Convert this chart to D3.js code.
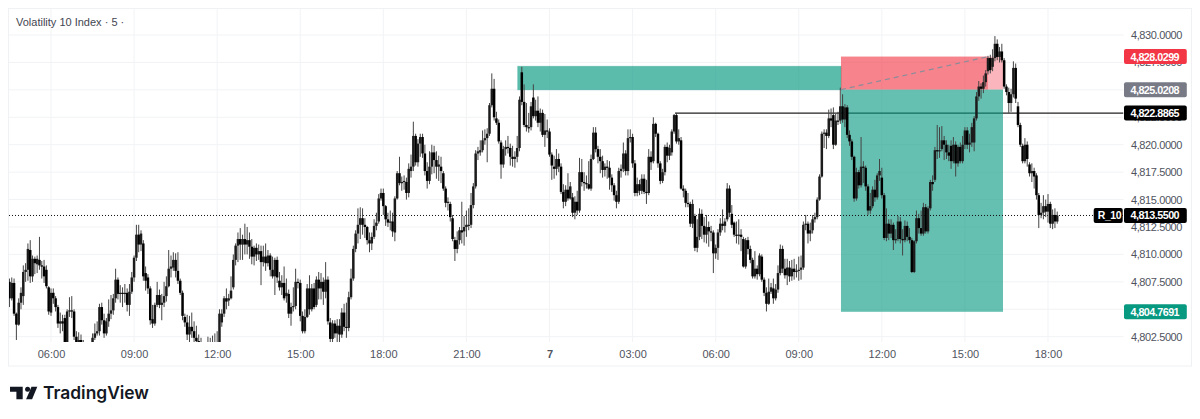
<!DOCTYPE html>
<html>
<head>
<meta charset="utf-8">
<script src="https://cdnjs.cloudflare.com/ajax/libs/d3/7.8.5/d3.min.js"></script>
<style>
  body { margin: 0; background: #fff; }
  text { font-family: "Liberation Sans", Roboto, sans-serif; }
</style>
</head>
<body>
<svg id="chart" width="1200" height="419"></svg>
<script>
// prices are kept as points above 4800, one entry per 5 minute bar
const priceBase = 4800
const opens = [7.5,6.0,7.4,4.6,3.6,5.6,6.2,8.4,8.6,10.4,
8.0,9.6,9.1,9.5,9.0,8.9,8.6,7.0,4.7,6.5,
6.0,5.2,3.7,3.9,4.2,2.0,4.8,4.9,4.8,2.5,
2.0,2.2,1.8,1.0,0.8,1.2,1.5,2.4,2.8,3.0,
5.2,4.0,2.8,3.9,4.6,4.9,6.0,7.7,6.4,6.5,
6.4,6.5,5.4,6.6,7.9,9.7,11.8,10.9,11.0,8.3,
7.9,6.9,4.1,3.7,5.4,6.3,5.4,5.6,6.2,7.1,
8.7,8.8,9.5,8.5,7.6,6.5,4.3,3.8,2.7,3.4,
3.0,2.4,2.1,2.0,1.6,1.2,1.3,1.5,1.7,1.8,
2.0,1.9,3.8,4.6,6.0,5.8,6.0,7.0,9.5,10.8,
11.4,10.9,11.4,10.9,11.3,10.7,9.8,10.6,10.0,10.3,
9.3,9.8,9.2,9.9,8.6,8.0,9.5,7.6,7.0,7.4,
6.2,6.4,4.6,5.2,5.3,7.5,7.4,4.4,3.0,4.3,
6.9,5.0,6.9,5.4,7.7,6.9,7.5,6.6,7.7,3.8,
2.3,3.7,2.8,3.5,2.7,4.7,3.4,3.3,6.1,7.8,
10.5,11.9,12.7,13.3,12.7,12.5,11.3,11.0,11.6,12.6,
13.0,15.1,15.6,14.4,13.2,12.9,13.0,12.0,15.1,17.4,
16.5,16.6,16.6,15.6,17.6,18.0,20.8,18.4,20.1,20.7,
19.2,17.6,16.7,18.0,19.3,18.6,18.0,18.0,17.4,16.0,
14.7,14.6,13.3,11.3,10.5,11.3,12.2,12.1,12.5,12.6,
12.7,14.5,16.2,19.2,19.3,19.5,20.4,20.6,21.0,23.6,
25.1,22.4,22.0,20.2,18.2,19.6,19.8,19.7,18.9,18.7,
18.9,19.7,26.6,23.9,21.8,21.6,21.6,24.3,22.6,23.1,
22.0,22.9,20.9,21.3,21.2,19.1,18.0,17.8,18.7,18.0,
15.7,14.8,15.9,15.1,15.2,13.8,14.8,14.0,17.5,16.6,
16.5,16.4,16.0,18.7,21.1,19.6,18.9,18.5,17.7,18.0,
17.9,17.0,16.3,15.4,14.8,17.6,17.8,19.2,17.6,20.6,
20.7,18.3,15.6,16.4,15.8,16.9,15.7,15.6,18.9,18.5,
21.9,21.0,18.3,16.7,17.5,19.8,19.0,19.3,21.2,22.7,
20.3,20.4,16.0,15.8,14.7,14.6,12.8,13.5,10.6,11.6,
13.7,12.6,11.8,12.5,12.1,12.0,10.1,10.6,12.0,12.8,
12.6,13.2,16.0,13.7,12.9,11.8,11.7,11.8,11.4,8.9,
11.3,10.5,9.5,8.0,8.7,8.2,9.8,7.7,6.5,5.5,
6.6,6.9,6.0,6.8,8.3,10.5,8.7,8.1,8.8,8.0,
8.7,8.4,8.5,8.6,8.8,12.7,12.8,11.9,12.2,13.2,
13.4,15.0,17.1,21.0,21.1,20.8,22.4,22.7,20.0,22.2,
22.2,23.5,22.3,23.4,20.9,20.3,18.9,15.1,17.5,16.3,
18.0,17.9,16.2,14.0,14.4,15.9,15.2,17.2,17.0,15.4,
11.5,12.8,11.9,12.7,11.3,11.4,13.0,11.4,11.3,12.6,
11.6,11.3,8.4,11.2,13.3,12.4,11.9,14.3,12.1,14.2,
16.6,16.8,19.5,19.4,19.6,20.4,20.0,19.3,19.9,18.5,
20.0,18.3,19.8,18.5,20.0,21.3,20.0,20.2,20.2,22.4,
24.4,25.3,25.1,25.7,26.7,27.9,27.1,27.9,29.2,28.0,
28.5,27.7,25.3,24.8,23.8,24.6,27.0,23.5,21.8,19.9,
18.5,20.0,18.2,17.4,17.6,17.2,15.4,13.6,13.8,14.4,
13.9,14.6,12.8,13.6,13.0]
const closes = [6.0,7.4,4.6,3.6,5.6,6.5,8.4,8.6,10.5,8.0,
9.6,9.2,9.6,9.0,8.9,8.0,7.1,4.8,6.5,6.0,
5.2,3.7,3.9,3.7,2.0,4.8,4.9,4.8,2.5,2.0,
2.2,1.8,1.0,0.8,1.2,1.5,2.4,2.8,3.0,5.2,
4.0,2.8,3.9,4.6,4.9,6.0,7.7,6.4,6.5,6.4,
6.5,5.4,6.6,7.9,9.7,11.8,10.9,11.9,8.0,7.6,
6.9,4.0,3.7,5.4,6.3,5.4,5.6,6.2,7.1,8.7,
8.9,9.5,8.5,7.6,6.5,4.4,3.8,2.7,3.4,3.0,
2.4,2.1,2.0,1.6,1.2,1.3,1.5,1.7,1.8,2.0,
1.9,4.6,4.6,6.0,5.7,6.0,6.7,9.5,10.8,11.4,
10.9,11.4,10.9,11.3,10.7,9.8,10.6,10.0,10.3,9.3,
9.8,9.2,9.9,8.6,8.0,9.5,7.9,7.0,7.4,6.0,
6.5,4.6,5.2,5.3,7.5,7.4,4.4,3.0,4.3,6.9,
5.0,6.9,5.2,7.7,6.9,7.5,6.6,7.7,3.9,2.3,
3.7,2.8,3.5,2.7,4.7,3.4,3.3,6.1,7.8,10.5,
11.9,12.7,13.3,12.7,12.5,11.3,11.0,11.6,12.6,12.9,
15.1,15.6,14.4,13.2,12.9,13.0,12.1,15.1,17.4,16.5,
16.6,16.7,15.6,17.8,18.0,20.8,18.4,20.1,20.7,19.2,
17.6,16.7,18.0,19.3,18.6,18.0,18.2,17.6,16.0,14.7,
14.8,13.4,11.4,10.5,11.3,12.2,12.0,12.5,12.7,12.7,
14.5,16.2,19.2,19.4,19.5,20.4,20.6,21.0,23.6,25.1,
22.5,22.0,20.3,18.2,19.6,19.8,19.7,18.9,18.7,18.9,
19.7,24.1,23.9,21.8,21.6,21.5,23.5,22.6,23.1,22.0,
22.9,20.9,21.3,21.2,19.1,18.1,17.8,18.7,18.0,15.7,
14.8,15.9,15.1,16.2,13.8,14.8,14.0,17.5,16.6,16.5,
16.4,16.0,18.7,21.1,19.6,18.9,18.5,17.7,18.0,17.9,
17.0,16.3,15.4,14.8,17.6,17.8,19.2,17.6,20.6,20.7,
18.3,15.6,16.4,15.8,16.9,15.7,15.6,18.9,18.4,21.9,
21.0,18.3,16.7,17.5,19.8,19.0,19.7,21.2,22.7,20.3,
20.6,16.0,15.8,14.7,14.6,12.8,14.6,10.6,11.6,13.7,
12.6,11.8,12.5,12.1,12.0,10.1,10.6,12.0,12.8,12.6,
13.0,16.0,13.8,12.7,11.8,11.7,11.8,11.6,8.9,11.3,
10.5,9.5,8.0,8.7,8.2,9.9,7.7,6.5,5.5,6.6,
7.0,6.0,6.8,8.3,10.5,8.7,8.1,8.8,8.0,8.7,
8.4,8.5,8.6,8.8,12.7,12.8,11.9,12.2,13.2,13.4,
15.0,17.1,21.0,21.1,20.8,22.4,22.2,20.0,22.2,22.1,
23.5,22.3,23.4,20.9,20.3,18.9,15.1,17.5,16.3,18.0,
17.9,16.2,14.0,14.4,15.9,15.2,17.2,17.6,15.4,11.5,
12.8,11.9,12.7,11.3,11.4,13.0,11.4,11.3,12.6,11.6,
11.3,8.4,11.2,13.3,12.4,11.9,14.3,12.1,14.2,16.6,
16.4,19.5,19.4,19.5,20.4,20.0,19.3,19.0,18.5,20.0,
18.3,19.8,18.5,20.0,21.3,20.0,20.2,21.6,22.4,24.4,
25.3,25.1,25.7,26.5,27.9,26.8,27.9,29.2,28.0,28.5,
27.7,25.3,24.8,23.8,24.6,27.0,24.2,21.8,20.0,18.5,
20.0,18.7,17.4,17.6,17.1,15.4,13.6,13.8,14.4,13.9,
14.6,12.8,13.6,13.0,13.55]
const highs = [7.8,7.9,7.8,4.7,6.0,7.0,9.0,9.2,11.0,11.3,
9.9,9.8,9.9,11.6,9.4,9.5,9.0,7.1,6.9,6.9,
6.2,5.4,4.7,4.5,4.5,5.0,6.1,6.2,5.0,3.0,
2.9,2.7,2.2,1.5,1.6,1.9,2.8,3.7,3.9,5.5,
5.6,4.6,4.2,5.9,6.3,6.4,8.7,7.9,7.2,7.0,
7.3,6.9,7.3,8.4,9.9,12.7,12.7,12.2,11.3,8.9,
8.2,7.1,5.4,5.6,7.5,6.8,6.4,7.5,8.0,10.4,
9.9,10.2,10.1,10.2,7.8,6.7,4.6,4.5,4.4,4.7,
3.9,3.5,2.7,2.4,1.9,1.7,2.5,2.4,2.6,2.8,
3.0,5.0,5.0,6.2,6.9,6.4,8.0,10.0,11.0,12.0,
12.4,11.8,12.8,12.5,12.0,11.4,10.8,11.0,10.9,10.8,
10.8,11.0,10.4,10.1,9.8,9.7,9.8,8.4,8.1,8.9,
7.8,6.8,5.6,7.0,8.7,7.8,7.7,4.8,5.0,7.3,
8.1,7.3,7.4,8.0,8.4,8.3,7.9,9.3,8.0,4.2,
4.0,4.0,4.1,4.1,5.1,5.5,5.6,6.6,8.7,10.8,
12.2,14.2,14.3,14.2,13.3,12.6,12.0,12.0,13.2,13.8,
15.5,16.0,16.0,14.5,13.8,14.0,13.8,15.3,17.6,18.9,
17.1,17.2,17.0,18.3,19.1,22.1,21.0,20.5,21.0,21.0,
20.0,18.4,19.4,20.0,19.9,19.4,19.0,18.9,17.6,16.2,
15.2,14.8,13.6,11.6,12.1,12.5,14.8,13.5,14.0,14.2,
15.6,16.5,19.5,19.8,20.4,21.3,21.4,21.5,23.8,26.5,
26.0,23.0,22.3,20.4,19.9,20.4,20.8,20.1,19.9,19.4,
20.8,24.4,27.1,25.5,23.8,22.9,23.9,25.5,24.1,24.4,
23.3,23.2,22.8,22.3,21.5,19.3,19.0,19.6,19.2,18.3,
16.4,16.3,17.4,16.6,15.6,15.3,15.8,18.8,18.7,17.5,
17.2,18.5,19.1,21.6,21.6,19.9,19.6,19.0,18.3,18.6,
18.5,17.3,16.5,15.8,17.9,18.2,20.2,19.5,21.4,21.4,
21.0,18.6,17.0,16.8,17.3,17.3,16.8,19.6,19.4,22.5,
22.0,21.1,18.5,17.8,20.0,20.2,20.0,21.4,22.8,22.9,
21.4,20.7,16.3,16.0,15.6,14.8,15.0,13.7,13.2,14.2,
14.1,13.4,13.6,13.0,12.6,12.2,10.9,12.3,13.3,14.1,
13.3,16.5,16.3,14.5,13.0,13.0,13.2,12.3,11.6,11.5,
11.6,10.8,9.7,10.3,9.0,10.1,10.0,7.9,7.0,7.8,
7.4,7.8,7.3,9.0,10.9,10.8,9.6,9.6,9.4,9.5,
9.6,9.1,9.8,9.9,13.0,13.6,13.0,12.9,13.6,13.8,
15.2,17.3,21.2,21.4,21.4,23.2,23.3,23.4,22.8,23.0,
25.2,24.6,23.7,23.6,21.3,20.5,19.0,17.9,17.7,20.7,
18.5,18.1,16.4,15.6,16.2,16.8,17.4,18.7,17.9,15.6,
14.2,13.2,13.2,12.9,12.3,13.5,13.4,12.3,13.1,13.0,
12.4,11.5,11.3,14.0,13.7,14.0,14.7,14.6,14.4,16.8,
17.2,19.8,21.8,21.6,21.7,20.8,20.4,20.0,20.4,20.7,
20.3,20.0,20.2,20.8,21.6,21.6,21.0,22.0,22.6,24.8,
25.8,25.6,26.3,26.8,28.1,28.2,28.7,29.9,29.6,28.9,
29.2,27.9,25.5,25.2,25.1,27.6,27.4,23.9,22.0,20.1,
20.6,20.3,18.4,18.3,17.9,17.4,15.6,14.7,15.4,15.0,
15.5,14.8,14.1,14.2,13.9]
const lows = [5.2,5.8,4.4,2.2,3.5,5.0,5.4,7.5,7.6,7.4,
7.5,8.2,8.3,8.6,7.8,7.4,6.9,4.5,4.4,5.5,
4.8,3.3,2.8,3.0,1.5,1.6,4.3,4.2,2.2,1.5,
1.2,1.0,0.5,0.2,0.3,0.6,1.0,2.2,2.6,2.6,
3.6,2.4,2.6,3.4,4.1,4.5,5.6,5.9,5.6,5.2,
5.6,4.8,4.4,6.4,7.5,9.4,10.2,10.3,7.6,6.7,
6.4,3.6,3.3,3.5,5.2,5.1,4.0,5.2,5.7,7.0,
7.9,8.5,7.9,7.3,6.3,4.0,3.4,2.2,2.0,2.4,
2.0,1.6,1.5,1.0,0.6,0.5,0.9,1.2,1.2,1.4,
1.5,1.5,3.4,4.3,5.0,5.3,5.9,6.8,9.0,9.3,
9.5,9.5,10.0,10.0,9.6,9.1,9.0,9.4,9.5,7.2,
8.9,8.5,8.9,8.0,7.8,6.3,7.4,6.7,6.3,5.8,
5.6,4.2,3.5,4.8,5.0,6.9,3.9,2.8,2.8,4.2,
4.5,4.8,5.0,5.2,5.9,5.9,5.4,6.0,3.6,2.0,
1.4,2.4,1.9,1.8,2.4,3.0,2.4,3.0,5.9,7.6,
10.2,11.0,11.4,11.8,11.5,10.9,10.2,10.4,11.4,12.2,
12.8,14.9,13.6,12.6,12.5,12.2,11.6,11.2,15.0,16.3,
15.8,15.9,15.0,15.2,17.0,17.6,18.1,18.0,18.9,18.8,
17.2,16.0,16.4,17.3,17.4,16.9,16.7,16.5,15.8,14.3,
14.0,13.0,11.2,9.4,10.1,10.9,11.0,10.8,11.6,12.2,
12.4,14.2,16.0,18.6,19.0,19.3,20.0,18.4,20.8,23.4,
22.2,21.8,20.1,16.9,17.9,19.0,19.2,18.1,18.0,17.9,
18.4,19.4,23.6,21.6,21.2,21.1,21.3,22.4,22.2,21.6,
21.2,20.7,19.8,20.6,18.9,16.8,16.9,17.2,17.5,15.5,
14.2,14.4,14.9,15.0,13.4,13.2,13.6,13.8,16.2,15.8,
16.0,15.9,15.8,18.6,19.3,18.3,17.4,17.0,17.1,16.9,
15.9,15.7,14.9,14.2,14.6,17.0,17.5,17.2,17.2,20.2,
17.9,15.3,15.3,15.4,15.5,15.5,14.6,15.4,17.7,18.3,
20.7,17.9,16.4,16.5,17.2,18.4,18.6,19.0,21.0,20.1,
20.0,15.9,15.2,14.3,14.3,12.5,12.4,10.3,10.2,11.3,
11.4,11.1,11.0,10.7,11.2,8.3,9.6,9.5,11.7,12.2,
12.0,13.0,13.4,12.4,11.6,11.0,10.9,10.3,8.8,8.7,
10.0,9.2,7.8,7.8,7.7,8.0,7.5,6.2,4.8,5.4,
6.4,5.5,5.8,6.5,8.1,8.3,7.8,7.2,7.5,7.6,
7.7,7.9,7.6,7.7,8.6,12.2,11.0,11.2,11.9,12.9,
13.2,14.9,17.0,19.7,19.6,20.6,21.6,19.6,19.9,21.8,
21.9,22.0,21.6,20.6,19.9,18.6,14.8,14.9,16.0,16.1,
16.5,15.8,13.6,13.7,14.2,14.8,15.0,16.7,15.1,11.3,
11.2,11.3,11.5,10.4,11.0,11.2,11.0,9.9,11.1,11.2,
11.0,8.3,8.3,11.0,11.9,11.7,11.7,11.9,11.9,14.0,
15.8,16.6,18.7,18.8,19.4,18.6,18.7,18.5,17.8,18.3,
17.1,18.0,18.3,18.3,19.6,19.6,19.3,19.8,19.4,22.2,
24.0,24.2,24.7,25.3,26.4,26.5,26.7,27.6,27.7,27.5,
27.5,25.1,24.5,22.9,23.0,24.3,23.8,21.6,19.8,18.3,
18.3,18.0,17.1,16.6,16.0,15.0,12.4,13.3,13.2,13.4,
12.9,12.4,12.3,12.4,12.8]

const priceTicks = [4830,4827.5,4825,4822.5,4820,4817.5,4815,4812.5,4810,4807.5,4805,4802.5]
const timeTickBars = [18,54,90,126,162,198,234,270,306,342,378,414,450]
const timeTickLabels = ['06:00','09:00','12:00','15:00','18:00','21:00','7','03:00','06:00','09:00','12:00','15:00','18:00']

const title = 'Volatility 10 Index · 5 ·'
const symbol = 'R_10'
const lastPrice = 4813.55
const levelPrice = 4822.8865
const levelStartBar = 288.4
const targetPrice = 4804.7691
const entryPrice = 4825.0208
const stopPrice = 4828.0299
const positionBars = [360.3, 430.5]
const tradeEndBar = 424
const supplyPrices = [4827.15, 4825.0]
const supplyBars = [220.2, 360.4]

const priceLabels = [
  {price: stopPrice, color: '#f23645'},
  {price: entryPrice, color: '#787b86'},
  {price: levelPrice, color: '#000'},
  {price: lastPrice, color: '#000'},
  {price: targetPrice, color: '#089981'}
]

const svg = d3.select('#chart')
const paneLeft = 9, paneRight = 1123.5, paneTop = 9, paneBottom = 342

const x = d3.scaleLinear().domain([18, 450]).range([51, 1048])
const y = d3.scaleLinear().domain([4830, 4802.5]).range([35, 336.7])
const fmt = d3.format(',.4f')

svg.append('rect')
  .attr('x', 8.5).attr('y', 8.5).attr('width', 1183).attr('height', 357.5)
  .attr('fill', '#fff').attr('stroke', '#f0f1f3')

svg.append('defs').append('clipPath').attr('id', 'pane')
  .append('rect')
  .attr('x', paneLeft).attr('y', paneTop)
  .attr('width', paneRight - paneLeft).attr('height', paneBottom - paneTop)

const grid = svg.append('g').attr('stroke', '#f2f3f5')
grid.selectAll('line.h').data(priceTicks).join('line').attr('class', 'h')
  .attr('x1', paneLeft).attr('x2', paneRight)
  .attr('y1', d => y(d)).attr('y2', d => y(d))
grid.selectAll('line.v').data(timeTickBars).join('line').attr('class', 'v')
  .attr('x1', d => x(d)).attr('x2', d => x(d))
  .attr('y1', paneTop).attr('y2', paneBottom)

const pane = svg.append('g').attr('clip-path', 'url(#pane)')

// level line sits under the position box, so it gets tinted where they overlap
pane.append('line')
  .attr('x1', x(levelStartBar)).attr('x2', paneRight)
  .attr('y1', y(levelPrice)).attr('y2', y(levelPrice))
  .attr('stroke', '#222').attr('stroke-width', 1.2)

pane.append('rect')
  .attr('x', x(supplyBars[0])).attr('width', x(supplyBars[1]) - x(supplyBars[0]))
  .attr('y', y(supplyPrices[0])).attr('height', y(supplyPrices[1]) - y(supplyPrices[0]))
  .attr('fill', '#089981').attr('fill-opacity', 0.66)
  .attr('stroke', '#089981').attr('stroke-opacity', 0.25)

const posWidth = x(positionBars[1]) - x(positionBars[0])
pane.append('rect')
  .attr('x', x(positionBars[0])).attr('width', posWidth)
  .attr('y', y(stopPrice)).attr('height', y(entryPrice) - y(stopPrice))
  .attr('fill', '#f23645').attr('fill-opacity', 0.36)
pane.append('rect')
  .attr('x', x(positionBars[0])).attr('width', x(tradeEndBar) - x(positionBars[0]))
  .attr('y', y(stopPrice)).attr('height', y(entryPrice) - y(stopPrice))
  .attr('fill', '#f23645').attr('fill-opacity', 0.4)
pane.append('rect')
  .attr('x', x(positionBars[0])).attr('width', posWidth)
  .attr('y', y(entryPrice)).attr('height', y(targetPrice) - y(entryPrice))
  .attr('fill', '#089981').attr('fill-opacity', 0.62)

// last price dotted line
pane.append('line')
  .attr('x1', paneLeft).attr('x2', paneRight)
  .attr('y1', y(lastPrice)).attr('y2', y(lastPrice))
  .attr('stroke', '#111').attr('stroke-dasharray', '1 2')

const bars = d3.range(opens.length)
const toY = v => y(priceBase + v)

pane.append('g').attr('stroke', '#444').attr('stroke-width', 1)
  .selectAll('line').data(bars).join('line')
  .attr('x1', i => x(i)).attr('x2', i => x(i))
  .attr('y1', i => toY(highs[i])).attr('y2', i => toY(lows[i]))

pane.append('g')
  .selectAll('rect').data(bars).join('rect')
  .attr('x', i => x(i) - 1.25)
  .attr('width', 2.5)
  .attr('y', i => toY(Math.max(opens[i], closes[i])))
  .attr('height', i => Math.max(1.2, Math.abs(toY(opens[i]) - toY(closes[i]))))
  .attr('fill', i => closes[i] >= opens[i] ? '#1c1c1c' : '#000')

pane.append('line')
  .attr('x1', x(positionBars[0])).attr('x2', x(tradeEndBar))
  .attr('y1', y(entryPrice)).attr('y2', y(stopPrice))
  .attr('stroke', '#8a8d99').attr('stroke-width', 1.2).attr('stroke-dasharray', '5 4')

svg.append('text')
  .attr('x', 16).attr('y', 25.5)
  .attr('font-size', 11).attr('fill', '#434651')
  .text(title)

// axes
const timeAxis = d3.axisBottom(x).tickValues(timeTickBars)
  .tickFormat((d, i) => timeTickLabels[i]).tickSize(0).tickPadding(0)
const timeG = svg.append('g').attr('transform', `translate(0, 350)`).call(timeAxis)
timeG.select('.domain').remove()
timeG.selectAll('text')
  .style('font-family', '"Liberation Sans", Roboto, sans-serif')
  .attr('font-size', 11).attr('fill', '#50535e')
  .attr('font-weight', (d, i) => timeTickLabels[i] === '7' ? 'bold' : 'normal')

const priceAxis = d3.axisRight(y).tickValues(priceTicks)
  .tickFormat(d => fmt(d)).tickSize(0).tickPadding(0)
const priceG = svg.append('g').attr('transform', 'translate(1131, 0)').call(priceAxis)
priceG.select('.domain').remove()
priceG.selectAll('text')
  .style('font-family', '"Liberation Sans", Roboto, sans-serif')
  .style('letter-spacing', '-0.4px')
  .attr('font-size', 11).attr('fill', '#50535e')

// price tags cover the axis labels underneath them
const tags = svg.append('g').selectAll('g').data(priceLabels).join('g')
  .attr('transform', d => `translate(1124, ${y(d.price)})`)
tags.append('rect')
  .attr('x', 0).attr('y', -7.5).attr('width', 62.8).attr('height', 15).attr('rx', 2)
  .attr('fill', d => d.color)
tags.append('text')
  .attr('x', 6.5).attr('y', 4)
  .attr('font-size', 10.8).attr('font-weight', 'bold').attr('fill', '#fff')
  .style('letter-spacing', '-0.55px')
  .text(d => fmt(d.price))

const sym = svg.append('g').attr('transform', `translate(1093.7, ${y(lastPrice)})`)
sym.append('rect')
  .attr('y', -7.5).attr('width', 29).attr('height', 15).attr('rx', 2).attr('fill', '#000')
sym.append('text')
  .attr('x', 4).attr('y', 4)
  .attr('font-size', 10.5).attr('font-weight', 'bold').attr('fill', '#fff')
  .style('letter-spacing', '-0.4px')
  .text(symbol)

// TradingView logo
const logo = svg.append('g').attr('fill', '#131722')
logo.append('path').attr('d', 'M10 386.7h12.7v12.6h-6.3v-7.6h-6.4z')
logo.append('circle').attr('cx', 27.6).attr('cy', 389.2).attr('r', 2.5)
logo.append('path').attr('d', 'M31.5 386.7h5.8l-5.2 12.6h-6z')
svg.append('text')
  .attr('x', 43).attr('y', 399.3)
  .attr('fill', '#131722')
  .attr('font-size', 17.4).attr('font-weight', 600)
  .style('font-family', 'Inter, Roboto, sans-serif')
  .text('TradingView')
</script>
</body>
</html>
